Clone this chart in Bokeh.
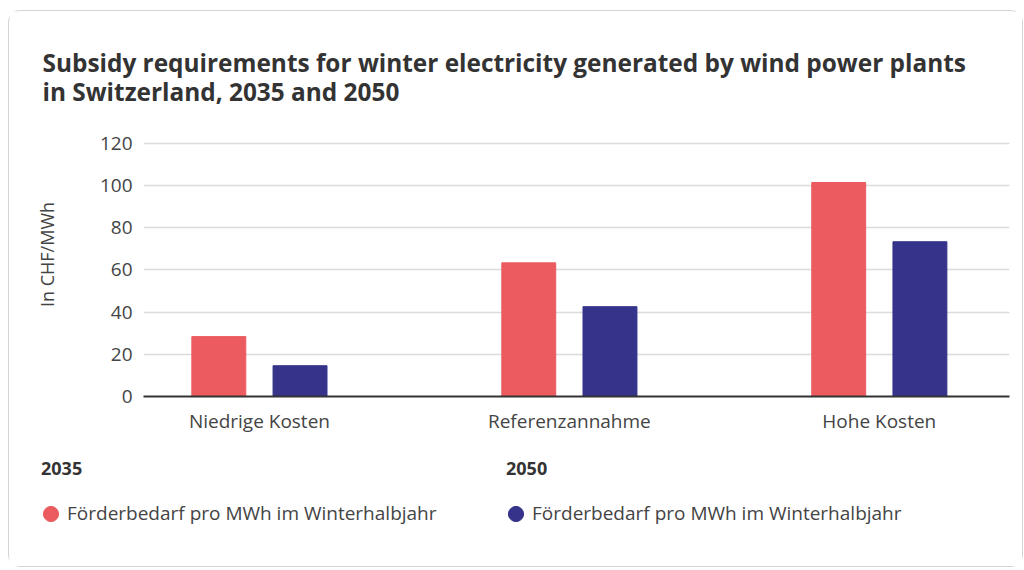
from bokeh.plotting import figure
from bokeh.layouts import column
from bokeh.models import Title, Legend, LegendItem, FixedTicker, Range1d
from bokeh.embed import file_html
from bokeh.resources import INLINE

categories = ["Niedrige Kosten", "Referenzannahme", "Hohe Kosten"]
values_2035 = [28.4, 63.4, 101.5]
values_2050 = [14.6, 42.6, 73.4]
series_names = ["2035", "2050"]
legend_label = "Förderbedarf pro MWh im Winterhalbjahr"
title_text = ("Subsidy requirements for winter electricity generated by wind power plants\n"
              "in Switzerland, 2035 and 2050")
y_ticks = [0, 20, 40, 60, 80, 100, 120]

RED = "#EB5B5F"
BLUE = "#35338A"
FONT = "Open Sans"
W = 1013

p = figure(width=W, height=434, output_backend="svg", toolbar_location=None,
           x_range=Range1d(-0.374, 2.42), y_range=Range1d(0, 134.7),
           min_border_left=134, min_border_right=13, min_border_bottom=49,
           min_border_top=101)
p.frame_align = False
p.outline_line_color = None

xs = list(range(len(categories)))
w = 0.174
off = 0.131
p.vbar(x=[x - off for x in xs], top=values_2035, width=w, color=RED)
p.vbar(x=[x + off for x in xs], top=values_2050, width=w, color=BLUE)

t1 = Title(text=title_text, text_font=FONT, text_font_size="24.4px",
           text_font_style="bold", text_color="#333333", offset=-101, standoff=8,
           text_line_height=0.9)
p.add_layout(t1, "above")
p.title.visible = False

p.xaxis.ticker = FixedTicker(ticks=xs)
p.xaxis.major_label_overrides = {i: c for i, c in enumerate(categories)}
p.xaxis.major_tick_line_color = None
p.xaxis.minor_tick_line_color = None
p.xaxis.axis_line_color = "#333333"
p.xaxis.axis_line_width = 2
p.xaxis.major_label_text_font = FONT
p.xaxis.major_label_text_font_size = "19px"
p.xaxis.major_label_text_color = "#444444"
p.xaxis.major_label_standoff = 5

p.yaxis.ticker = FixedTicker(ticks=y_ticks)
p.yaxis.axis_line_color = None
p.yaxis.major_tick_line_color = None
p.yaxis.minor_tick_line_color = None
p.yaxis.major_label_text_font = FONT
p.yaxis.major_label_text_font_size = "19px"
p.yaxis.major_label_text_color = "#444444"
p.yaxis.major_label_standoff = 5
p.yaxis.axis_label = "In CHF/MWh"
p.yaxis.axis_label_text_font = FONT
p.yaxis.axis_label_text_font_size = "18px"
p.yaxis.axis_label_text_font_style = "normal"
p.yaxis.axis_label_text_color = "#444444"
p.yaxis.axis_label_standoff = 38

p.xgrid.grid_line_color = None
p.ygrid.grid_line_color = "#dcdcdc"
p.ygrid.grid_line_width = 1.5

# legend strip
lf = figure(width=W, height=121, output_backend="svg", toolbar_location=None,
            x_axis_location=None, y_axis_location=None,
            min_border=0, x_range=Range1d(0, 1), y_range=Range1d(0, 1))
lf.frame_align = False
lf.outline_line_color = None
lf.grid.visible = False
nan = float("nan")
d1 = lf.ellipse(x=[nan], y=[nan], width=15, height=15, width_units="screen",
                height_units="screen", color=RED)
d2 = lf.ellipse(x=[nan], y=[nan], width=15, height=15, width_units="screen",
                height_units="screen", color=BLUE)
for name, rend, xloc in [(series_names[0], d1, 32), (series_names[1], d2, 497)]:
    lg = Legend(items=[LegendItem(label=legend_label, renderers=[rend])],
                title=name, location=(xloc, 40),
                title_text_font=FONT, title_text_font_size="18px",
                title_text_font_style="bold", title_text_color="#333333",
                title_standoff=20,
                label_text_font=FONT, label_text_font_size="19px",
                label_text_color="#444444",
                glyph_width=19, glyph_height=19, label_standoff=7,
                padding=0, margin=0, spacing=0,
                border_line_color=None, background_fill_alpha=0)
    lf.add_layout(lg, "center")

layout = column(p, lf, spacing=0,
                styles={"border": "1px solid #d4d4d4", "border-radius": "12px",
                        "margin-left": "8px", "margin-top": "10px"})

open("out.html", "w").write(file_html(layout, INLINE))
